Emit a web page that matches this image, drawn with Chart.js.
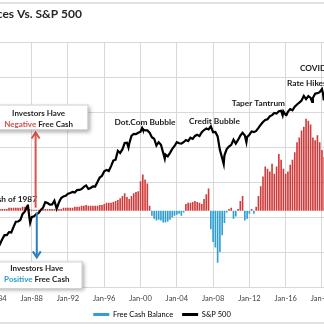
<!DOCTYPE html>
<html>
<head>
<meta charset="utf-8">
<script src="https://cdn.jsdelivr.net/npm/chart.js@4.4.1/dist/chart.umd.min.js"></script>
<style>
  html, body { margin: 0; padding: 0; background: #fff; width: 324px; height: 327px; overflow: hidden; position: relative; }
  .frame { position: absolute; left: -6px; top: 2px; width: 336px; height: 322px; border-top: 2px solid #e2e2e2; border-bottom: 2px solid #e2e2e2; box-sizing: border-box; }
  /* the chart is wider than the window: its left and right edges are cropped off */
  .wrap { position: absolute; left: -40px; top: 0; width: 404px; height: 336px; }
</style>
</head>
<body>
<div class="frame"></div>
<div class="wrap"><canvas id="myChart"></canvas></div>
<script>
const CROP = 40; // px of chart hidden on the left

// free cash balance, $bn, quarterly from Apr-84 (negative = investors owe more than they hold)
const cashStart = 1984.25;
const cashValues = [
  -6, -6, -6,
  -6, -6, -10, -10,
  -10, -10, -10, -10,
  -13, -13, -13, -6,
  -3, -3, -3, -3,
  -3, -6, -6, -6,
  -6, -6, -6, -3,
  -6, -6, -10, -10,
  -10, -10, -10, -13,
  -13, -13, -16, -16,
  -19, -16, -16, -16,
  -16, -16, -19, -19,
  -22, -26, -26, -26,
  -29, -32, -35, -41,
  -48, -57, -45, -38,
  -48, -57, -61, -64,
  -96, -118, -102, -89,
  -16, 16, 26, 32,
  29, 32, 38, 38,
  35, 29, 22, 16,
  13, 10, 16, 6,
  -22, -26, -26, -29,
  -32, -29, -26, -22,
  -38, -54, -73, 60,
  102, 120, 169, 134,
  80, 40, 6, -6,
  -10, 26, 19, -6,
  -32, -48, 32, 26,
  10, -6, 10, -13,
  -48, -80, -112, -144,
  -137, -128, -153, -121,
  -144, -185, -166, -137,
  -121, -128, -150, -166,
  -191, -223, -239, -262,
  -274, -300, -293, -281,
  -239, -230, -246, -223,
  -198, -175,
];
const cashDates = cashValues.map((_, i) => cashStart + i / 4);

// S&P 500 index level
const spxDates = [
  1984.0, 1984.25, 1984.5, 1984.75, 1985.0, 1985.25, 1985.5, 1985.75,
  1986.0, 1986.25, 1986.5, 1986.75, 1987.0, 1987.25, 1987.5, 1987.58, 1987.75, 1987.83,
  1988.0, 1988.25, 1988.5, 1988.75, 1989.0, 1989.25, 1989.5, 1989.75,
  1990.0, 1990.25, 1990.5, 1990.75, 1991.0, 1991.25, 1991.5, 1991.75,
  1992.0, 1992.25, 1992.5, 1992.75, 1993.0, 1993.25, 1993.5, 1993.75,
  1994.0, 1994.25, 1994.5, 1994.75, 1995.0, 1995.25, 1995.5, 1995.75,
  1996.0, 1996.25, 1996.5, 1996.75, 1997.0, 1997.25, 1997.5, 1997.75,
  1998.0, 1998.25, 1998.5, 1998.67, 1998.75, 1999.0, 1999.25, 1999.5, 1999.75,
  2000.0, 2000.17, 2000.25, 2000.5, 2000.75, 2001.0, 2001.25, 2001.5, 2001.75,
  2002.0, 2002.25, 2002.5, 2002.67, 2002.75, 2003.0, 2003.25, 2003.5, 2003.75,
  2004.0, 2004.25, 2004.5, 2004.75, 2005.0, 2005.25, 2005.5, 2005.75,
  2006.0, 2006.25, 2006.5, 2006.75, 2007.0, 2007.25, 2007.5, 2007.75,
  2008.0, 2008.25, 2008.5, 2008.75, 2009.0, 2009.17, 2009.25, 2009.5, 2009.75,
  2010.0, 2010.25, 2010.5, 2010.75, 2011.0, 2011.25, 2011.5, 2011.67, 2011.75,
  2012.0, 2012.25, 2012.5, 2012.75, 2013.0, 2013.25, 2013.5, 2013.75,
  2014.0, 2014.25, 2014.5, 2014.75, 2015.0, 2015.25, 2015.5, 2015.67, 2015.75,
  2016.0, 2016.08, 2016.25, 2016.5, 2016.75, 2017.0, 2017.25, 2017.5, 2017.75,
  2018.0, 2018.25, 2018.5, 2018.75, 2018.92, 2019.0, 2019.25, 2019.5, 2019.75,
  2020.0, 2020.12, 2020.2,
];
const spxValues = [
  164, 160, 151, 166, 180, 180, 191, 190,
  212, 235, 236, 243, 274, 288, 318, 330, 252, 230,
  257, 261, 272, 278, 297, 310, 346, 340,
  329, 330, 356, 304, 343, 375, 387, 392,
  408, 415, 424, 419, 439, 440, 448, 467,
  481, 450, 458, 472, 470, 514, 562, 582,
  636, 654, 639, 705, 786, 801, 954, 914,
  980, 1112, 1120, 1017, 1098, 1280, 1335, 1329, 1362,
  1394, 1499, 1452, 1430, 1429, 1366, 1249, 1211, 1059,
  1130, 1076, 912, 815, 885, 855, 916, 990, 1050,
  1131, 1107, 1101, 1130, 1181, 1156, 1234, 1207,
  1280, 1310, 1276, 1377, 1438, 1482, 1455, 1549,
  1378, 1385, 1267, 968, 825, 735, 872, 987, 1036,
  1073, 1187, 1101, 1183, 1286, 1363, 1292, 1131, 1253,
  1312, 1398, 1379, 1412, 1498, 1597, 1685, 1757,
  1782, 1883, 1931, 2018, 1995, 2085, 2104, 1920, 2079,
  1940, 1932, 2065, 2174, 2126, 2279, 2384, 2470, 2575,
  2824, 2648, 2816, 2711, 2507, 2704, 2945, 2980, 3037,
  3226, 2954, 2585,
];

const tickYears = [1984, 1988, 1992, 1996, 2000, 2004, 2008, 2012, 2016, 2020];
const spxGrid = [64, 128, 256, 512, 1024, 2048, 4096, 8192];

const chartTitle = "Investor Free Cash Balances Vs. S&P 500";
const RED = "#cf3b3b";
const BLUE = "#2f9fd0";
const FONT = "Lato, 'Open Sans', sans-serif";

// event labels: [text, year, S&P level, align]
const events = [
  ["Crash of 1987", 1988.58, 369, "right"],
  ["Dot.Com Bubble", 2000.49, 1690, "center"],
  ["Credit Bubble", 2008.15, 1722, "center"],
  ["Taper Tantrum", 2013.0, 2435, "center"],
  ["Rate Hikes", 2016.15, 3649, "left"],
  ["COVID", 2017.58, 4871, "left"],
];

function drawArrow(ctx, x, y0, y1, color) {
  const dir = Math.sign(y1 - y0);
  ctx.strokeStyle = color;
  ctx.lineWidth = 2;
  ctx.beginPath();
  ctx.moveTo(x, y0);
  ctx.lineTo(x, y1 - dir);
  ctx.stroke();
  ctx.beginPath();
  ctx.moveTo(x - 4, y1 - dir * 6);
  ctx.lineTo(x, y1);
  ctx.lineTo(x + 4, y1 - dir * 6);
  ctx.stroke();
}

function drawCallout(ctx, left, top, right, bottom, cx, lines) {
  ctx.save();
  ctx.shadowColor = "rgba(0,0,0,0.35)";
  ctx.shadowBlur = 4;
  ctx.shadowOffsetX = 2;
  ctx.shadowOffsetY = 2;
  ctx.fillStyle = "#fff";
  ctx.fillRect(left, top, right - left, bottom - top);
  ctx.restore();
  ctx.strokeStyle = "#cfcfcf";
  ctx.lineWidth = 1;
  ctx.strokeRect(left + 0.5, top + 0.5, right - left, bottom - top);
  ctx.font = "bold 8px " + FONT;
  ctx.textBaseline = "middle";
  ctx.textAlign = "left";
  lines.forEach(([y, parts]) => {
    const total = parts.reduce((s, p) => s + ctx.measureText(p[0]).width, 0);
    let x = cx - total / 2;
    parts.forEach(([txt, col]) => {
      ctx.fillStyle = col;
      ctx.fillText(txt, x, y);
      x += ctx.measureText(txt).width;
    });
  });
}

const notesPlugin = {
  id: "notes",
  afterLayout(chart) {
    // pull the legend up under the tick labels
    chart.legend.top -= 7.75;
    chart.legend.bottom -= 7.75;
  },
  afterDraw(chart) {
    const { ctx } = chart;
    const { x, yCash, ySpx } = chart.scales;
    ctx.save();

    // title (its start is cut off by the crop)
    ctx.font = "bold 12px " + FONT;
    ctx.fillStyle = "#262626";
    ctx.textAlign = "right";
    ctx.textBaseline = "middle";
    ctx.fillText(chartTitle, CROP + 82, 14);

    // event labels
    ctx.font = "bold 8.3px " + FONT;
    ctx.fillStyle = "#1a1a1a";
    events.forEach(([txt, yr, lvl, align]) => {
      ctx.textAlign = align;
      ctx.fillText(txt, x.getPixelForValue(yr), ySpx.getPixelForValue(lvl));
    });

    // arrows
    const redX = x.getPixelForValue(1988.43);
    const redTip = yCash.getPixelForValue(-255);
    drawArrow(ctx, redX, yCash.getPixelForValue(-10), redTip, "#d9534f");
    const blueX = x.getPixelForValue(1988.56);
    const blueTip = yCash.getPixelForValue(152);
    drawArrow(ctx, blueX, yCash.getPixelForValue(5), blueTip, "#2b7fbf");

    drawCallout(ctx, CROP - 10, redTip - 28, redX + 52, redTip - 3, redX + 3, [
      [redTip - 19, [["Investors Have", "#262626"]]],
      [redTip - 8, [["Negative", "#d0504a"], [" Free Cash", "#262626"]]],
    ]);
    drawCallout(ctx, CROP - 10, blueTip + 4, blueX + 45, blueTip + 31, blueX, [
      [blueTip + 11, [["Investors Have", "#262626"]]],
      [blueTip + 22, [["Positive", "#2e9cc8"], [" Free Cash", "#262626"]]],
    ]);
    ctx.restore();
  },
};

const ctx = document.getElementById("myChart");
new Chart(ctx, {
  data: {
    datasets: [
      {
        type: "bar",
        label: "Free Cash Balance",
        data: cashDates.map((d, i) => ({ x: d, y: cashValues[i] })),
        yAxisID: "yCash",
        order: 1,
        backgroundColor: cashValues.map((v) => (v < 0 ? RED : BLUE)),
        barPercentage: 0.72,
        categoryPercentage: 1,
      },
      {
        type: "line",
        label: "S&P 500",
        data: spxDates.map((d, i) => ({ x: d, y: spxValues[i] })),
        yAxisID: "ySpx",
        order: 0,
        borderColor: "#000",
        borderWidth: 2.2,
        pointRadius: 0,
        tension: 0,
      },
    ],
  },
  options: {
    responsive: true,
    maintainAspectRatio: false,
    animation: false,
    layout: { padding: { top: 42, bottom: 0, left: 0, right: 0 } },
    plugins: {
      title: { display: false },
      tooltip: { enabled: false },
      legend: {
        position: "bottom",
        labels: {
          boxWidth: 16,
          boxHeight: 3,
          padding: 9,
          color: "#404040",
          font: { family: FONT, size: 7.5 },
          generateLabels: () => [
            { text: "Free Cash Balance", fillStyle: BLUE, strokeStyle: BLUE, lineWidth: 0, hidden: false, datasetIndex: 0 },
            { text: "S&P 500", fillStyle: "#000", strokeStyle: "#000", lineWidth: 0, hidden: false, datasetIndex: 1 },
          ],
        },
      },
    },
    scales: {
      x: {
        type: "linear",
        offset: false,
        min: 1980.095,
        max: 2024.637,
        afterBuildTicks: (s) => {
          s.ticks = tickYears.map((v) => ({ value: v }));
        },
        grid: { color: "#d9d9d9", drawTicks: false, offset: false },
        border: { display: false },
        ticks: {
          autoSkip: false,
          maxRotation: 0,
          padding: 6.5,
          color: "#404040",
          font: { family: FONT, size: 7.5 },
          callback: (v) => "Jan-" + String(v).slice(2),
        },
      },
      ySpx: {
        type: "logarithmic",
        position: "right",
        min: 64,
        max: 8192,
        afterBuildTicks: (s) => {
          s.ticks = spxGrid.map((v) => ({ value: v }));
        },
        grid: { color: "#d9d9d9", drawTicks: false },
        border: { display: false },
        ticks: { display: false },
      },
      yCash: {
        type: "linear",
        position: "left",
        reverse: true,
        min: -550,
        max: 250,
        display: false,
      },
    },
  },
  plugins: [notesPlugin],
});
</script>
</body>
</html>
